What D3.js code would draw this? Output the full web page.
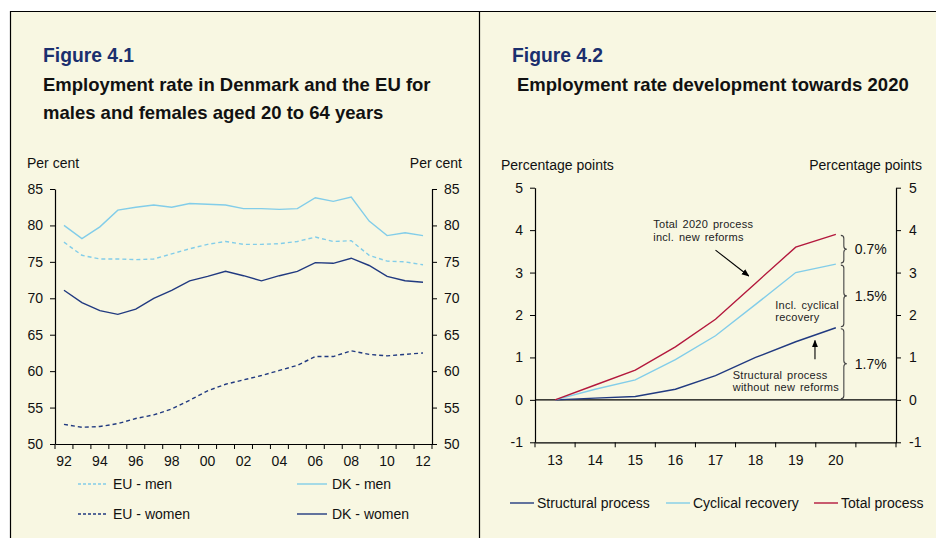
<!DOCTYPE html>
<html><head><meta charset="utf-8">
<script src="https://cdn.jsdelivr.net/npm/d3@7"></script>
<style>
html,body{margin:0;padding:0;background:#fff;}
svg{display:block;font-family:"Liberation Sans",Arial,sans-serif;}
</style></head>
<body>
<svg id="c" width="936" height="538"></svg>
<script>
// ---------- Figure 4.1 data ----------
const yearsL = ["92","93","94","95","96","97","98","99","00","01","02","03","04","05","06","07","08","09","10","11","12"];
const xLabelsL = ["92","94","96","98","00","02","04","06","08","10","12"];
const dkMen   = [80.0,78.2,79.8,82.1,82.5,82.8,82.5,83.0,82.9,82.8,82.3,82.3,82.2,82.3,83.8,83.3,83.9,80.6,78.6,79.0,78.6];
const euMen   = [77.7,75.9,75.4,75.4,75.3,75.4,76.1,76.8,77.4,77.8,77.4,77.4,77.5,77.8,78.4,77.8,77.9,75.9,75.1,75.0,74.6];
const dkWomen = [71.1,69.4,68.3,67.8,68.5,70.0,71.1,72.4,73.0,73.7,73.1,72.4,73.1,73.7,74.9,74.8,75.5,74.5,73.0,72.4,72.2];
const euWomen = [52.7,52.3,52.4,52.8,53.5,54.0,54.8,56.0,57.3,58.2,58.8,59.4,60.1,60.8,62.0,62.0,62.8,62.3,62.1,62.3,62.5];
const yTicksL = [50,55,60,65,70,75,80,85];

// ---------- Figure 4.2 data ----------
const catsR = ["13","14","15","16","17","18","19","20",""];
const structural = [0,0.04,0.08,0.25,0.57,1.0,1.37,1.7];
const cyclical   = [0,0.25,0.47,0.95,1.51,2.25,3.0,3.2];
const total      = [0,0.35,0.7,1.25,1.9,2.75,3.6,3.9];
const yTicksR = [-1,0,1,2,3,4,5];
const braceLabels = ["0.7%","1.5%","1.7%"];

const navy = "#213a80", light = "#82cde9", red = "#b3183d", bg = "#f8f7e2";
const svg = d3.select("#c");

// panel background and borders
svg.append("rect").attr("x",10).attr("y",11).attr("width",926).attr("height",527).attr("fill",bg);
svg.append("line").attr("x1",10).attr("x2",936).attr("y1",11.5).attr("y2",11.5).attr("stroke","#000").attr("stroke-width",1.2);
svg.append("line").attr("x1",10.5).attr("x2",10.5).attr("y1",11).attr("y2",538).attr("stroke","#000").attr("stroke-width",1.2);
svg.append("line").attr("x1",479.5).attr("x2",479.5).attr("y1",11).attr("y2",538).attr("stroke","#000").attr("stroke-width",1.2);

// titles
svg.append("text").attr("x",43).attr("y",62).attr("font-size",19.3).attr("font-weight","bold").attr("fill","#1b2f6e").text("Figure 4.1");
svg.append("text").attr("x",43).attr("y",90.5).attr("font-size",18.5).attr("font-weight","bold").attr("fill","#111").text("Employment rate in Denmark and the EU for");
svg.append("text").attr("x",43).attr("y",118.5).attr("font-size",18.5).attr("font-weight","bold").attr("fill","#111").text("males and females aged 20 to 64 years");
svg.append("text").attr("x",512).attr("y",62).attr("font-size",19.3).attr("font-weight","bold").attr("fill","#1b2f6e").text("Figure 4.2");
svg.append("text").attr("x",517).attr("y",90.5).attr("font-size",18.5).attr("font-weight","bold").attr("fill","#111").text("Employment rate development towards 2020");

// ================= LEFT CHART =================
const xL = d3.scaleBand().domain(yearsL).range([55,432]).padding(0);
const yL = d3.scaleLinear().domain([50,85]).range([444,189]);
const gL = svg.append("g");

function styleAxis(g){
  g.selectAll("path").attr("stroke","#000").attr("stroke-width",1.2);
  g.selectAll("line").attr("stroke","#000");
  g.selectAll("text").attr("font-size",14).attr("fill","#111").attr("font-family","Liberation Sans, Arial, sans-serif");
}
gL.append("g").attr("transform","translate(55,0)")
  .call(d3.axisLeft(yL).tickValues(yTicksL).tickSize(5).tickPadding(7).tickSizeOuter(0)).call(styleAxis);
gL.append("g").attr("transform","translate(432,0)")
  .call(d3.axisRight(yL).tickValues(yTicksL).tickSize(5).tickPadding(7).tickSizeOuter(0)).call(styleAxis);
gL.append("g").attr("transform","translate(0,444)")
  .call(d3.axisBottom(xL).tickValues(xLabelsL).tickSize(0).tickPadding(12)).call(styleAxis);
// boundary ticks
const boundsL = yearsL.map(d=>xL(d)).concat([xL(yearsL[yearsL.length-1])+xL.bandwidth()]);
gL.selectAll(".bt").data(boundsL).enter().append("line")
  .attr("x1",d=>d).attr("x2",d=>d).attr("y1",444).attr("y2",449).attr("stroke","#000");

const lineL = d3.line().x((d,i)=>xL(yearsL[i])+xL.bandwidth()/2).y(d=>yL(d));
const seriesL = [
  {v:dkMen, c:light, dash:null, name:"DK - men"},
  {v:euMen, c:light, dash:"4,3", name:"EU - men"},
  {v:dkWomen, c:navy, dash:null, name:"DK - women"},
  {v:euWomen, c:navy, dash:"4,3", name:"EU - women"}
];
seriesL.forEach(s=>{
  gL.append("path").attr("d",lineL(s.v)).attr("fill","none").attr("stroke",s.c)
    .attr("stroke-width",1.4).attr("stroke-dasharray",s.dash);
});
svg.append("text").attr("x",27).attr("y",168).attr("font-size",14).attr("fill","#111").text("Per cent");
svg.append("text").attr("x",462).attr("y",168).attr("font-size",14).attr("fill","#111").attr("text-anchor","end").text("Per cent");

// left legend
const legL = [
  {s:seriesL[1], x:78, y:484},{s:seriesL[0], x:297, y:484},
  {s:seriesL[3], x:78, y:514},{s:seriesL[2], x:297, y:514}
];
legL.forEach(l=>{
  svg.append("line").attr("x1",l.x).attr("x2",l.x+30).attr("y1",l.y).attr("y2",l.y)
    .attr("stroke",l.s.c).attr("stroke-width",1.4).attr("stroke-dasharray",l.s.dash?"3,2":null);
  svg.append("text").attr("x",l.x+35).attr("y",l.y+5).attr("font-size",14).attr("fill","#111").text(l.s.name);
});

// ================= RIGHT CHART =================
const xR = d3.scaleBand().domain(catsR).range([535,896]).padding(0);
const yR = d3.scaleLinear().domain([-1,5]).range([442.3,187.7]);
const gR = svg.append("g");
const fmtR = d => String(d);
gR.append("g").attr("transform","translate(535,0)")
  .call(d3.axisLeft(yR).tickValues(yTicksR).tickFormat(fmtR).tickSize(5).tickPadding(7).tickSizeOuter(0)).call(styleAxis);
gR.append("g").attr("transform","translate(896,0)")
  .call(d3.axisRight(yR).tickValues(yTicksR).tickFormat(fmtR).tickSize(5).tickPadding(8).tickSizeOuter(0)).call(styleAxis);
gR.append("g").attr("transform","translate(0,"+yR(-1)+")")
  .call(d3.axisBottom(xR).tickSize(0).tickPadding(13)).call(styleAxis);
const boundsR = catsR.map(d=>xR(d)).concat([xR(catsR[catsR.length-1])+xR.bandwidth()]);
gR.selectAll(".bt").data(boundsR).enter().append("line")
  .attr("x1",d=>d).attr("x2",d=>d).attr("y1",yR(-1)).attr("y2",yR(-1)+5).attr("stroke","#000");
// zero line
gR.append("line").attr("x1",535).attr("x2",896).attr("y1",yR(0)).attr("y2",yR(0)).attr("stroke","#000").attr("stroke-width",1.2);

const cx = c => xR(c)+xR.bandwidth()/2;
const xv = v => cx("13") + (v-13)*xR.bandwidth();
const lineR = d3.line().x((d,i)=>cx(catsR[i])).y(d=>yR(d));
const seriesR = [
  {v:structural, c:navy, name:"Structural process"},
  {v:cyclical, c:light, name:"Cyclical recovery"},
  {v:total, c:red, name:"Total process"}
];
seriesR.forEach(s=>{
  gR.append("path").attr("d",lineR(s.v)).attr("fill","none").attr("stroke",s.c).attr("stroke-width",1.4);
});
svg.append("text").attr("x",501).attr("y",170).attr("font-size",14).attr("fill","#111").text("Percentage points");
svg.append("text").attr("x",922).attr("y",170).attr("font-size",14).attr("fill","#111").attr("text-anchor","end").text("Percentage points");

// braces
const last = structural.length-1;
const braceVals = [[total[last],cyclical[last]],[cyclical[last],structural[last]],[structural[last],0]];
const bx = cx("20")+5;
braceVals.forEach((b,i)=>{
  const y1 = yR(b[0])+1, y2 = yR(b[1])-1, m=(y1+y2)/2;
  const p = `M${bx},${y1} Q${bx+3},${y1} ${bx+3},${y1+3} L${bx+3},${m-3} Q${bx+3},${m} ${bx+6},${m} Q${bx+3},${m} ${bx+3},${m+3} L${bx+3},${y2-3} Q${bx+3},${y2} ${bx},${y2}`;
  gR.append("path").attr("d",p).attr("fill","none").attr("stroke","#444").attr("stroke-width",1.1);
  gR.append("text").attr("x",bx+14).attr("y",m+5).attr("font-size",14).attr("fill","#111").text(braceLabels[i]);
});

// annotations (two-line text blocks)
const defs = svg.append("defs");
defs.append("marker").attr("id","ah").attr("viewBox","0 0 10 10").attr("refX",9).attr("refY",5)
  .attr("markerWidth",7).attr("markerHeight",7).attr("orient","auto")
  .append("path").attr("d","M0,1 L10,5 L0,9 Z").attr("fill","#000");
const ann = (x,y,lines)=>{
  const t = gR.append("text").attr("x",x).attr("y",y).attr("font-size",11).attr("fill","#222")
    .attr("letter-spacing","0.25px").attr("word-spacing","1.5px");
  lines.forEach((l,i)=>t.append("tspan").attr("x",x).attr("dy",i===0?0:12.3).text(l));
};
ann(xv(15.45), yR(4.04), ["Total 2020 process","incl. new reforms"]);
ann(xv(18.49), yR(2.15), ["Incl. cyclical","recovery"]);
ann(xv(17.43), yR(0.50), ["Structural process","without new reforms"]);
gR.append("line").attr("x1",xv(17.0)).attr("y1",yR(3.53)).attr("x2",xv(17.83)).attr("y2",yR(2.92))
  .attr("stroke","#000").attr("stroke-width",1.1).attr("marker-end","url(#ah)");
gR.append("line").attr("x1",xv(19.48)).attr("y1",yR(0.96)).attr("x2",xv(19.48)).attr("y2",yR(1.4))
  .attr("stroke","#000").attr("stroke-width",1.1).attr("marker-end","url(#ah)");

// right legend
const legR = [{s:seriesR[0],x:510},{s:seriesR[1],x:666},{s:seriesR[2],x:814}];
legR.forEach(l=>{
  svg.append("line").attr("x1",l.x).attr("x2",l.x+24).attr("y1",503).attr("y2",503).attr("stroke",l.s.c).attr("stroke-width",1.4);
  svg.append("text").attr("x",l.x+27).attr("y",508).attr("font-size",14).attr("fill","#111").text(l.s.name);
});
</script>
</body></html>
